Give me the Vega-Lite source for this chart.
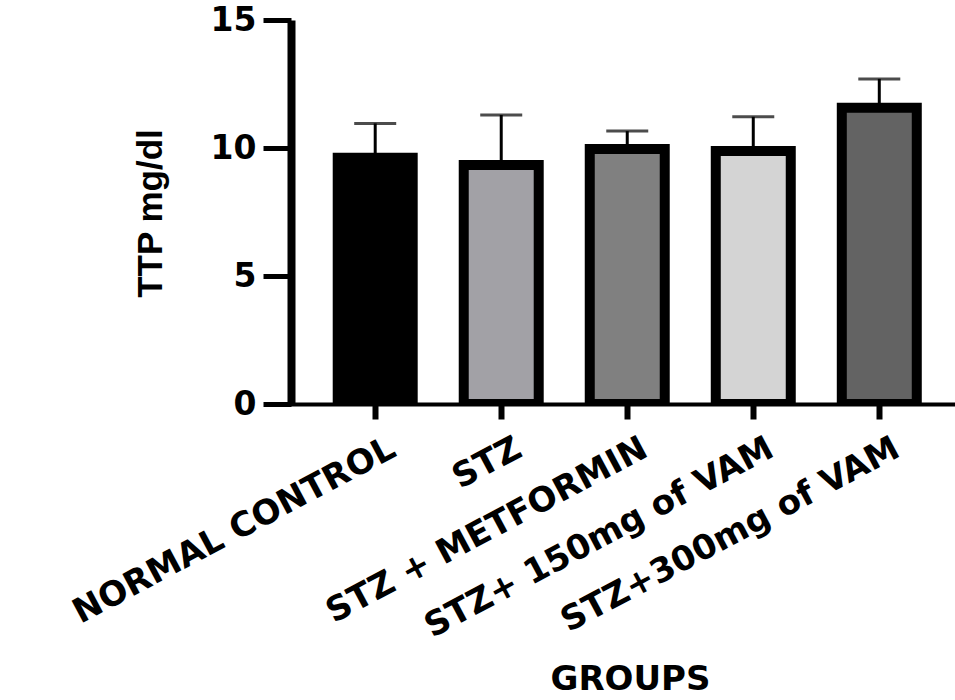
{
  "$schema": "https://vega.github.io/schema/vega-lite/v6.json",
  "autosize": "none",
  "width": 664,
  "height": 384,
  "padding": {"left": 291, "top": 20, "right": 0, "bottom": 296},
  "background": "white",
  "config": {"view": {"stroke": null}},
  "data": {
    "values": [
      {"group": "NORMAL CONTROL", "mean": 9.62, "upper": 10.96},
      {"group": "STZ", "mean": 9.34, "upper": 11.29},
      {"group": "STZ + METFORMIN", "mean": 9.96, "upper": 10.66},
      {"group": "STZ+ 150mg of VAM", "mean": 9.88, "upper": 11.22},
      {"group": "STZ+300mg of VAM", "mean": 11.57, "upper": 12.7}
    ]
  },
  "encoding": {
    "x": {
      "field": "group",
      "type": "nominal",
      "sort": null,
      "scale": {"paddingInner": 0.405, "paddingOuter": 0.337, "align": 0.55},
      "axis": {
        "title": "GROUPS",
        "titleFont": "DejaVu Sans",
        "titleFontWeight": "bold",
        "titleFontSize": 34,
        "titleColor": "black",
        "titleX": 339,
        "titleY": 285,
        "titleBaseline": "alphabetic",
        "titleAlign": "center",
        "labelFont": "DejaVu Sans",
        "labelFontWeight": "bold",
        "labelFontSize": 34,
        "labelColor": "black",
        "labelAngle": -28,
        "labelAlign": "right",
        "labelBaseline": "top",
        "labelPadding": 12,
        "labelOffset": 10,
        "labelLimit": 0,
        "labelOverlap": false,
        "domainColor": "black",
        "domainWidth": 4,
        "tickColor": "black",
        "tickWidth": 6,
        "tickSize": 15,
        "domainCap": "square"
      }
    }
  },
  "layer": [
    {
      "mark": {"type": "bar", "stroke": "black", "strokeWidth": 10, "clip": true},
      "encoding": {
        "y": {
          "field": "mean",
          "type": "quantitative",
          "scale": {"domain": [0, 15], "nice": false},
          "axis": {
            "values": [0, 5, 10, 15],
            "title": "TTP mg/dl",
            "titleFont": "Liberation Sans",
            "titleFontWeight": "bold",
            "titleFontSize": 35,
            "titleColor": "black",
            "titleAngle": -90,
            "titleX": -130,
            "titleY": 193,
            "titleAlign": "center",
            "titleBaseline": "alphabetic",
            "labelFont": "DejaVu Sans",
            "labelFontWeight": "bold",
            "labelFontSize": 33,
            "labelColor": "black",
            "labelPadding": 7,
            "labelBaseline": "middle",
            "domainColor": "black",
            "domainWidth": 8,
            "tickColor": "black",
            "tickWidth": 5,
            "tickSize": 28,
            "grid": false
          }
        },
        "fill": {
          "field": "group",
          "type": "nominal",
          "sort": null,
          "scale": {
            "domain": ["NORMAL CONTROL", "STZ", "STZ + METFORMIN", "STZ+ 150mg of VAM", "STZ+300mg of VAM"],
            "range": ["#000000", "#a2a1a6", "#808080", "#d4d4d4", "#636363"]
          },
          "legend": null
        }
      }
    },
    {
      "mark": {"type": "rule", "color": "black", "strokeWidth": 3},
      "encoding": {
        "y": {"field": "mean", "type": "quantitative"},
        "y2": {"field": "upper"}
      }
    },
    {
      "mark": {"type": "tick", "color": "black", "thickness": 3, "size": 42, "orient": "horizontal"},
      "encoding": {
        "y": {"field": "upper", "type": "quantitative"}
      }
    }
  ]
}
